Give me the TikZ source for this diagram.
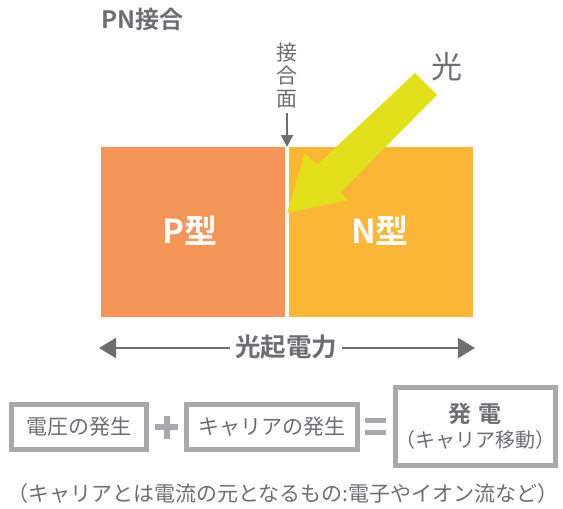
\documentclass[tikz,border=0pt]{standalone}
\usepackage{fontspec}
\setmainfont{Noto Sans CJK JP}[BoldFont={* Bold}]
\usetikzlibrary{arrows.meta}
\definecolor{txtgray}{HTML}{6D6E71}
\definecolor{boxgray}{HTML}{A7A9AC}
\definecolor{porange}{HTML}{F59658}
\definecolor{nyellow}{HTML}{FCB635}
\definecolor{lightgreen}{HTML}{E1E01B}
\tikzset{
  lbl/.style={inner sep=0pt, text=txtgray},
  termbox/.style={draw=boxgray, line width=5pt, fill=white, inner sep=0pt, text=txtgray},
  bigtip/.style={-{Triangle[length=17pt,width=20pt]}, draw=txtgray, fill=txtgray, line width=2pt},
  smalltip/.style={-{Triangle[length=12pt,width=12pt]}, draw=txtgray, line width=2pt},
  sym/.style={fill=boxgray}
}
\begin{document}
\begin{tikzpicture}[x=1pt,y=-1pt]
\useasboundingbox (0,0) rectangle (563,509);
% title
\node[lbl, anchor=west, font=\fontsize{24}{24}\selectfont\bfseries] (title) at (101,19) {PN接合};
% regions
\fill[porange] (101,147) rectangle (285,317);
\fill[nyellow] (289,147) rectangle (473,317);
\node[inner sep=0pt, text=white, font=\fontsize{33}{33}\selectfont\bfseries] (ptype) at (190,231) {P型};
\node[inner sep=0pt, text=white, font=\fontsize{33}{33}\selectfont\bfseries] (ntype) at (380,231) {N型};
% junction label
\node[lbl, font=\fontsize{21}{23}\selectfont, align=center] (jlabel) at (287,76) {接\\合\\面};
\coordinate (jtop) at (287,113);
\coordinate (jend) at (287,147);
\draw[smalltip] (jtop) -- (jend);
% light
\node[lbl, font=\fontsize{31}{31}\selectfont] (light) at (447,67) {光};
\coordinate (t1) at (415,73);
\coordinate (t2) at (437,95);
\coordinate (n1) at (340,193);
\coordinate (w1) at (348,200);
\coordinate (tip) at (287,213);
\coordinate (w2) at (305,153);
\coordinate (n2) at (317,165);
\fill[lightgreen] (t1) -- (t2) -- (n1) -- (w1) -- (tip) -- (w2) -- (n2) -- cycle;
% photovoltage
\node[lbl, font=\fontsize{25.5}{25.5}\selectfont\bfseries] (pv) at (286,347) {光起電力};
\coordinate (pvl) at (99,348);
\coordinate (pvr) at (475,348);
\coordinate (pvlw) at (230,348);
\coordinate (pvre) at (342,348);
\draw[bigtip] (pvlw) -- (pvl);
\draw[bigtip] (pvre) -- (pvr);
% equation boxes
\node[termbox, minimum width=135pt, minimum height=45pt, font=\fontsize{21}{21}\selectfont] (b1) at (79,427) {電圧の発生};
\node[termbox, minimum width=171pt, minimum height=45pt, font=\fontsize{21}{21}\selectfont] (b2) at (272,427) {キャリアの発生};
\node[termbox, minimum width=160pt, minimum height=78pt, text width=160pt, font=\fontsize{20}{25}\selectfont, align=center] (b3) at (475,426.5) {{\bfseries\fontsize{23}{25}\selectfont 発 電}\\（キャリア移動）};
% plus and equals
\fill[sym] (155,424) rectangle (178,430);
\fill[sym] (163.5,415.5) rectangle (169.5,438.5);
\fill[sym] (365,418) rectangle (386,423);
\fill[sym] (365,430) rectangle (386,435);
% footnote
\node[lbl, font=\fontsize{21}{21}\selectfont] (note) at (283,494) {（キャリアとは電流の元となるもの:電子やイオン流など）};
\end{tikzpicture}
\end{document}
